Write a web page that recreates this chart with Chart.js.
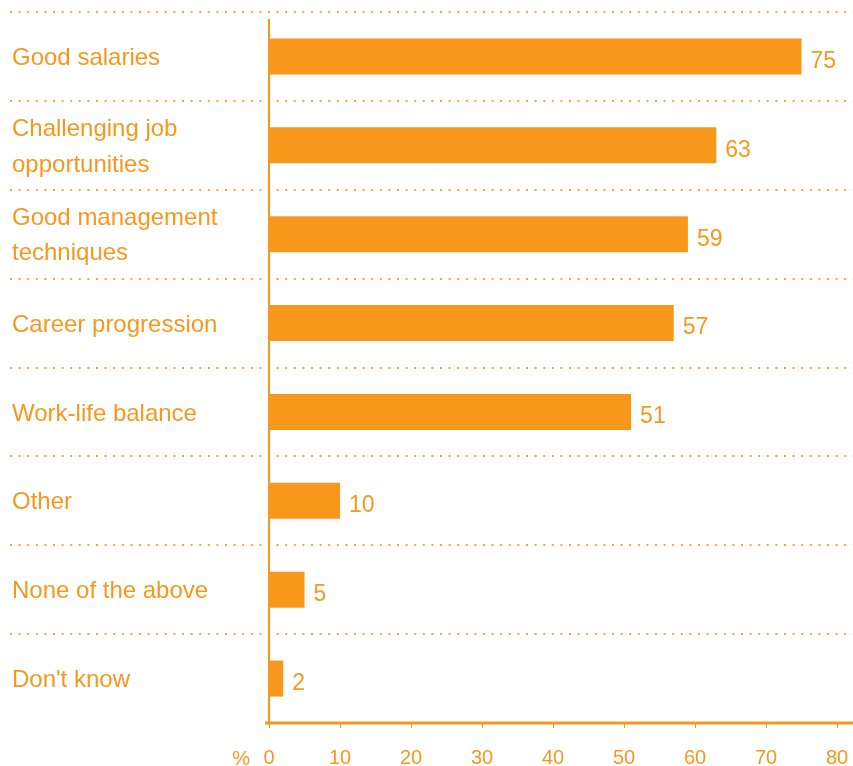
<!DOCTYPE html>
<html>
<head>
<meta charset="utf-8">
<script src="https://cdn.jsdelivr.net/npm/chart.js@4"></script>
<style>
  body { margin: 0; background: #fff; }
  #wrap { width: 853px; height: 766px; }
</style>
</head>
<body>
<div id="wrap"><canvas id="chart" width="853" height="766"></canvas></div>
<script>
var categories = [
    'Good salaries',
    ['Challenging job', 'opportunities'],
    ['Good management', 'techniques'],
    'Career progression',
    'Work-life balance',
    'Other',
    'None of the above',
    "Don't know"
];
var values = [75, 63, 59, 57, 51, 10, 5, 2];
var tickLabels = [0, 10, 20, 30, 40, 50, 60, 70, 80];

var ORANGE = '#F7981D';
var FONT = "'Liberation Sans', Arial, Helvetica, sans-serif";

// dotted separators between rows, running across the whole width
var rowLines = {
    id: 'rowLines',
    beforeDatasetsDraw: function(chart) {
        var y = chart.scales.y;
        var ctx = chart.ctx;
        var step = (y.bottom - y.top) / categories.length;
        ctx.save();
        ctx.strokeStyle = '#F9A53F';
        ctx.lineWidth = 2;
        ctx.setLineDash([2, 6.6]);
        for (var i = 0; i < categories.length; i++) {
            var py = Math.round(y.top + i * step);
            ctx.beginPath();
            ctx.moveTo(10, py);
            ctx.lineTo(chart.width, py);
            ctx.stroke();
        }
        ctx.restore();
    }
};

// axis lines, value labels and the % unit
var extras = {
    id: 'extras',
    afterDatasetsDraw: function(chart) {
        var ctx = chart.ctx;
        var area = chart.chartArea;
        var x = chart.scales.x;
        ctx.save();
        ctx.strokeStyle = ORANGE;
        ctx.lineWidth = 2;
        ctx.beginPath();
        ctx.moveTo(area.left, area.top + 7);
        ctx.lineTo(area.left, area.bottom + 2);
        ctx.stroke();
        ctx.lineWidth = 3;
        ctx.beginPath();
        ctx.moveTo(area.left - 4, area.bottom);
        ctx.lineTo(chart.width, area.bottom);
        ctx.stroke();

        ctx.fillStyle = ORANGE;
        ctx.font = '23px ' + FONT;
        ctx.textAlign = 'left';
        ctx.textBaseline = 'middle';
        chart.getDatasetMeta(0).data.forEach(function(bar, i) {
            ctx.fillText(String(values[i]), bar.x + 9, bar.y + 5);
        });

        ctx.font = '20px ' + FONT;
        ctx.textAlign = 'right';
        ctx.fillText('%', x.getPixelForValue(0) - 19, 759);
        ctx.restore();
    }
};

var ctx = document.getElementById('chart').getContext('2d');
var chart = new Chart(ctx, {
    type: 'bar',
    data: {
        labels: categories,
        datasets: [{
            data: values,
            backgroundColor: ORANGE,
            borderWidth: 0,
            barPercentage: 0.405,
            categoryPercentage: 1
        }]
    },
    options: {
        indexAxis: 'y',
        responsive: false,
        animation: false,
        layout: { padding: { top: 12, left: 12, right: 0, bottom: 0 } },
        plugins: {
            legend: { display: false },
            tooltip: { enabled: false }
        },
        scales: {
            x: {
                min: 0,
                max: 82.25,
                afterBuildTicks: function(scale) {
                    scale.ticks = tickLabels.map(function(v) { return { value: v }; });
                },
                afterFit: function(scale) {
                    scale.height = 43;
                    scale.paddingLeft = 0;
                    scale.paddingRight = 0;
                },
                border: { display: false },
                grid: {
                    drawOnChartArea: false,
                    drawTicks: true,
                    tickLength: 5,
                    color: ORANGE,
                    lineWidth: 1
                },
                ticks: {
                    color: ORANGE,
                    padding: 18,
                    maxRotation: 0,
                    autoSkip: false,
                    font: { family: FONT, size: 20 }
                }
            },
            y: {
                afterFit: function(scale) {
                    scale.width = 257;
                    scale.paddingTop = 0;
                    scale.paddingBottom = 0;
                },
                border: { display: false },
                grid: { display: false },
                ticks: {
                    color: ORANGE,
                    crossAlign: 'far',
                    autoSkip: false,
                    labelOffset: 2,
                    font: { family: FONT, size: 24, lineHeight: 1.47 }
                }
            }
        }
    },
    plugins: [rowLines, extras]
});
</script>
</body>
</html>
